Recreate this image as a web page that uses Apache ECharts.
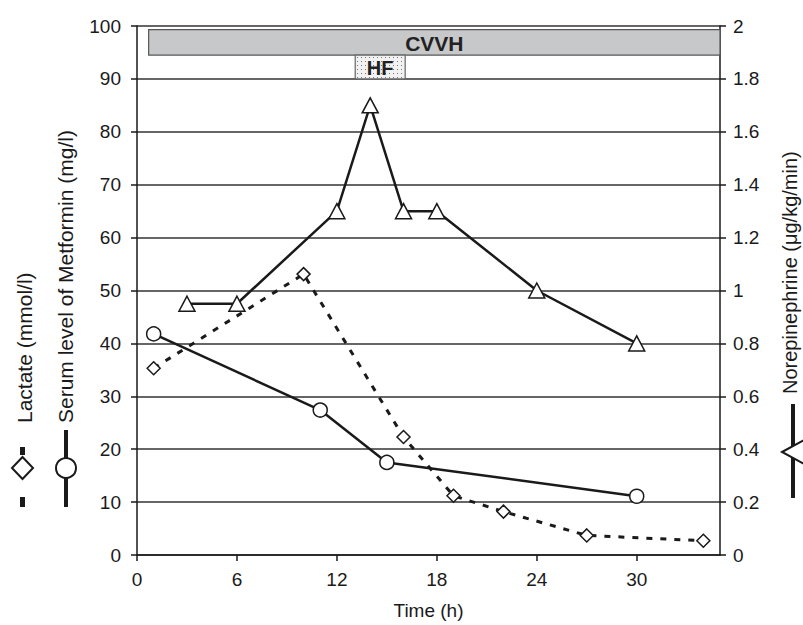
<!DOCTYPE html>
<html>
<head>
<meta charset="utf-8">
<script src="https://cdn.jsdelivr.net/npm/echarts@6/dist/echarts.min.js"></script>
<style>html,body{margin:0;padding:0;background:#fff}#c{width:803px;height:625px}</style>
</head>
<body>
<div id="c"></div>
<script>
// ---- data ----
const metHours = [1, 11, 15, 30];
const metformin = [41.8, 27.4, 17.5, 11.1];
const lacHours = [1, 10, 16, 19, 22, 27, 34];
const lactate = [35.3, 53.1, 22.3, 11.2, 8.2, 3.7, 2.7];
const neHours = [3, 6, 12, 14, 16, 18, 24, 30];
const norepinephrine = [0.95, 0.95, 1.3, 1.7, 1.3, 1.3, 1.0, 0.8];
const procNames = ['CVVH', 'HF'];
const procStart = [0.7, 13.1];
const procEnd = [35, 16.1];
const procLow = [94.5, 90];
const procHigh = [99.3, 94.5];
const xTicks = [0, 6, 12, 18, 24, 30];

const FONT = 'Liberation Sans, Arial, Helvetica, sans-serif';
const INK = '#1a1a1a';

// dotted pattern for HF box
const pc = document.createElement('canvas');
pc.width = 4; pc.height = 4;
const pctx = pc.getContext('2d');
pctx.fillStyle = '#f2f2f2'; pctx.fillRect(0, 0, 4, 4);
pctx.fillStyle = '#777'; pctx.fillRect(1, 1, 1, 1);

const chart = echarts.init(document.getElementById('c'), null, {renderer: 'svg'});

const procData = procNames.map((n, i) => [procStart[i], procEnd[i], procLow[i], procHigh[i], n]);

chart.setOption({
  animation: false,
  backgroundColor: '#fff',
  grid: {left: 137, right: 83, top: 26, bottom: 70, containLabel: false},
  xAxis: {
    type: 'value', min: 0, max: 35, interval: 6,
    name: 'Time (h)', nameLocation: 'middle', nameGap: 46,
    nameTextStyle: {fontFamily: FONT, fontSize: 19, color: INK},
    axisLine: {show: true, lineStyle: {color: INK, width: 1.5}},
    axisTick: {show: true, length: 6, lineStyle: {color: INK, width: 1.5}},
    axisLabel: {fontFamily: FONT, fontSize: 19, color: INK, margin: 15, showMaxLabel: false,
      formatter: v => xTicks.indexOf(v) >= 0 ? String(v) : ''},
    splitLine: {show: false}
  },
  yAxis: [{
    type: 'value', min: 0, max: 100, interval: 10, position: 'left',
    axisLine: {show: true, lineStyle: {color: INK, width: 1.5}},
    axisTick: {show: true, length: 6, lineStyle: {color: INK, width: 1.5}},
    axisLabel: {fontFamily: FONT, fontSize: 19, color: INK, margin: 16},
    splitLine: {show: true, lineStyle: {color: '#333', width: 1.5}}
  }, {
    type: 'value', min: 0, max: 2, interval: 0.2, position: 'right',
    axisLine: {show: true, lineStyle: {color: INK, width: 1.5}},
    axisTick: {show: true, length: 6, lineStyle: {color: INK, width: 1.5}},
    axisLabel: {fontFamily: FONT, fontSize: 19, color: INK, margin: 13},
    splitLine: {show: false}
  }],
  series: [{
    type: 'custom', name: 'procedures', yAxisIndex: 0, z: 1,
    data: procData,
    renderItem: function (params, api) {
      const i = params.dataIndex;
      const p1 = api.coord([api.value(0), api.value(3)]);
      const p2 = api.coord([api.value(1), api.value(2)]);
      const isHF = procNames[i] === 'HF';
      return {
        type: 'group',
        children: [{
          type: 'rect',
          shape: {x: p1[0], y: p1[1], width: p2[0] - p1[0], height: p2[1] - p1[1]},
          style: {fill: isHF ? {image: pc, repeat: 'repeat'} : '#c7c8ca', stroke: isHF ? '#666' : '#555', lineWidth: 1.2}
        }, {
          type: 'text',
          style: {text: procNames[i], x: (p1[0] + p2[0]) / 2, y: (p1[1] + p2[1]) / 2 + 1,
            align: 'center', verticalAlign: 'middle',
            font: 'bold ' + (isHF ? 20 : 21) + 'px ' + FONT, fill: '#222'}
        }]
      };
    }
  }, {
    type: 'line', name: 'Metformin', yAxisIndex: 0, z: 3,
    data: metHours.map((h, i) => [h, metformin[i]]),
    symbol: 'circle', symbolSize: 14, showAllSymbol: true,
    lineStyle: {color: INK, width: 2.5},
    itemStyle: {color: '#fff', borderColor: INK, borderWidth: 1.5}
  }, {
    type: 'line', name: 'Lactate', yAxisIndex: 0, z: 3,
    data: lacHours.map((h, i) => [h, lactate[i]]),
    symbol: 'diamond', symbolSize: 13, showAllSymbol: true,
    lineStyle: {color: INK, width: 3, type: [6, 8]},
    itemStyle: {color: '#fff', borderColor: INK, borderWidth: 1.5}
  }, {
    type: 'line', name: 'Norepinephrine', yAxisIndex: 1, z: 3,
    data: neHours.map((h, i) => [h, norepinephrine[i]]),
    symbol: 'triangle', symbolSize: [16, 15], showAllSymbol: true,
    lineStyle: {color: INK, width: 2.5},
    itemStyle: {color: '#fff', borderColor: INK, borderWidth: 1.5}
  }],
  graphic: [
    // axis titles
    {type: 'text', x: 24, y: 423, rotation: Math.PI / 2,
      style: {text: 'Lactate (mmol/l)', font: '21px ' + FONT, fill: INK, align: 'left', verticalAlign: 'middle'}},
    {type: 'text', x: 65, y: 423, rotation: Math.PI / 2,
      style: {text: 'Serum level of Metformin (mg/l)', font: '21px ' + FONT, fill: INK, align: 'left', verticalAlign: 'middle'}},
    {type: 'text', x: 790, y: 394, rotation: Math.PI / 2,
      style: {text: 'Norepinephrine (μg/kg/min)', font: '20px ' + FONT, fill: INK, align: 'left', verticalAlign: 'middle'}},
    // legend key: lactate
    {type: 'rect', shape: {x: 20, y: 447, width: 5, height: 8}, style: {fill: INK}},
    {type: 'polygon', shape: {points: [[22.5, 457], [33, 468], [22.5, 479], [12, 468]]}, style: {fill: '#fff', stroke: INK, lineWidth: 2}},
    {type: 'rect', shape: {x: 20, y: 497, width: 5, height: 10}, style: {fill: INK}},
    // legend key: metformin
    {type: 'line', shape: {x1: 66, y1: 430, x2: 66, y2: 507}, style: {stroke: INK, lineWidth: 4}},
    {type: 'circle', shape: {cx: 66, cy: 468, r: 10}, style: {fill: '#fff', stroke: INK, lineWidth: 2}},
    // legend key: norepinephrine
    {type: 'line', shape: {x1: 793, y1: 404, x2: 793, y2: 498}, style: {stroke: INK, lineWidth: 4}},
    {type: 'polygon', shape: {points: [[782, 452], [804, 440], [804, 464]]}, style: {fill: '#fff', stroke: INK, lineWidth: 2}}
  ]
});
</script>
</body>
</html>
